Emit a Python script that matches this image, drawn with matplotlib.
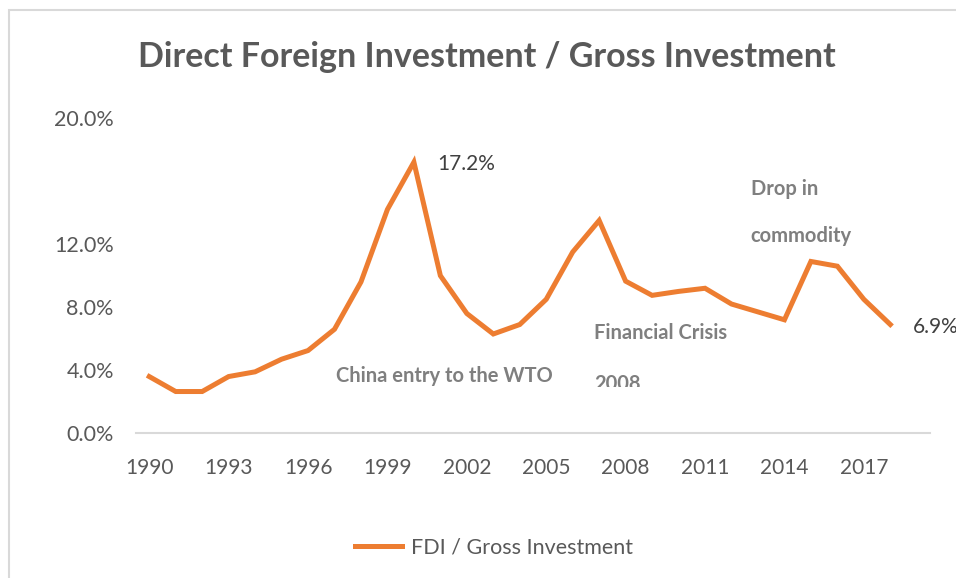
#!/usr/bin/env python3
"""FDI as a share of gross investment, 1990-2018"""
import matplotlib
matplotlib.use("Agg")
import matplotlib.pyplot as plt
import matplotlib.patches as mpatches

years = list(range(1990, 2019))
fdi_share = [3.6, 2.65, 2.65, 3.6, 3.9, 4.7, 5.25, 6.6, 9.6, 14.2, 17.2,
             10.0, 7.6, 6.3, 6.9, 8.5, 11.5, 13.5, 9.65, 8.75, 9.0, 9.2,
             8.2, 7.7, 7.2, 10.9, 10.6, 8.5, 6.9]
xtick_years = list(range(1990, 2018, 3))
ytick_values = [0, 4, 8, 12, 20]

ORANGE = "#ED7D31"
GREY = "#595959"
NOTE_GREY = "#7f7f7f"
LIGHT = "#d9d9d9"

plt.rcParams["font.family"] = ["Lato", "DejaVu Sans"]

fig = plt.figure(figsize=(9.56, 5.78), dpi=100)
ax = fig.add_axes([136 / 956, 1 - 433.3 / 578, (930 - 136) / 956, (433.3 - 118) / 578])

line, = ax.plot(years, fdi_share, color=ORANGE, lw=3.6, solid_joinstyle="miter",
                label="FDI / Gross Investment")

ax.set_xlim(1989.5, 2019.5)
ax.set_ylim(0, 20)
ax.set_xticks(xtick_years)
ax.set_xticklabels([str(y) for y in xtick_years])
ax.set_yticks(ytick_values)
ax.set_yticklabels([f"{v:.1f}%" for v in ytick_values])
ax.tick_params(length=0, labelcolor=GREY)
ax.tick_params(axis="x", pad=18, labelsize=15)
ax.tick_params(axis="y", pad=16, labelsize=15.5)
for side in ["top", "left", "right"]:
    ax.spines[side].set_visible(False)
ax.spines["bottom"].set_color(LIGHT)
ax.spines["bottom"].set_linewidth(1.5)

# data labels
ax.text(2000.87, 17.1, "17.2%", fontsize=15, color="#404040", va="center")
ax.text(2018.85, 6.77, "6.9%", fontsize=15, color="#404040", va="center", clip_on=False)

# event notes
note = dict(fontsize=14.5, fontweight="bold", color=NOTE_GREY, va="center")
ax.text(1997.06, 3.65, "China entry to the WTO", **note)
ax.text(2006.8, 6.39, "Financial Crisis", **note)
t2008 = ax.text(2006.8, 3.1, "2008", **note)
clip = mpatches.Rectangle((0, 1 - 387 / 578), 1, 1, transform=fig.transFigure)
t2008.set_clip_on(True)
t2008.set_clip_path(clip)
ax.text(2012.73, 15.5, "Drop in", **note)
ax.text(2012.73, 12.5, "commodity", **note)

fig.text(487 / 956, 1 - 57 / 578, "Direct Foreign Investment / Gross Investment",
         ha="center", va="center", fontsize=24.5, fontweight="bold", color=GREY)

fig.legend(handles=[line], loc="center", bbox_to_anchor=(494 / 956, 1 - 548 / 578),
           frameon=False, fontsize=15.5, handlelength=2.2, handletextpad=0.4,
           labelcolor=GREY)

# chart frame (runs off the right and bottom edges)
fig.patches.append(mpatches.Rectangle((9 / 956, -0.1), 2, 1.1 - 10 / 578,
                                      transform=fig.transFigure, fill=False,
                                      edgecolor=LIGHT, lw=1.5))

fig.savefig("out.png", dpi=100)
